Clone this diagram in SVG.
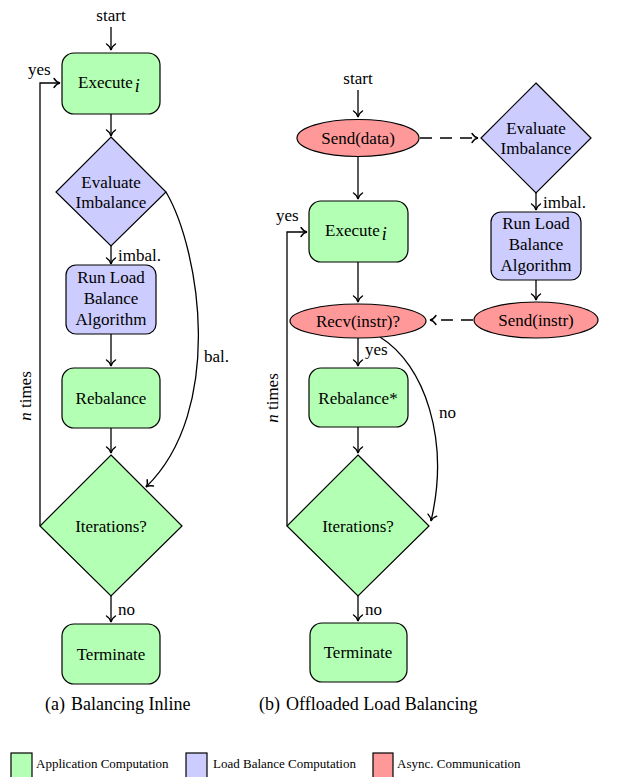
<svg xmlns="http://www.w3.org/2000/svg" width="632" height="777" viewBox="0 0 632 777" font-family="Liberation Serif, Times New Roman, serif" font-size="17">
<style>
text{fill:#000}
.c{text-anchor:middle}
.g{fill:#b3ffb3;stroke:#000;stroke-width:1.2}
.p{fill:#ccccff;stroke:#000;stroke-width:1.2}
.r{fill:#ff9999;stroke:#000;stroke-width:1.2}
.e{fill:none;stroke:#000;stroke-width:1.3;marker-end:url(#ah)}
.d{stroke-dasharray:12 8}
.leg{font-size:13px}
.it{font-style:italic}
</style>
<defs>
<marker id="ah" markerUnits="userSpaceOnUse" viewBox="-7 -6 8 12" refX="0" refY="0" markerWidth="8" markerHeight="12" orient="auto" overflow="visible">
<path d="M-6,-4.5 C-4,-1.5 -1.5,-0.3 0,0 C-1.5,0.3 -4,1.5 -6,4.5" fill="none" stroke="#000" stroke-width="1.4" stroke-linecap="round"/>
</marker>
</defs>

<g id="connectors">
<line class="e" x1="111" y1="27" x2="111" y2="50"/>
<line class="e" x1="111" y1="114" x2="111" y2="136"/>
<line class="e" x1="111" y1="246" x2="111" y2="264"/>
<line class="e" x1="111" y1="334" x2="111" y2="366"/>
<line class="e" x1="111" y1="428" x2="111" y2="453"/>
<line class="e" x1="111" y1="596" x2="111" y2="622"/>
<path class="e" d="M40,526 V83 H60"/>
<path class="e" d="M166,192 C200,250 225,410 146,487"/>

<line class="e" x1="358" y1="90" x2="358" y2="117"/>
<line class="e d" x1="420" y1="138" x2="478" y2="138"/>
<line class="e" x1="536" y1="193" x2="536" y2="210"/>
<line class="e" x1="536" y1="280" x2="536" y2="300"/>
<line class="e d" x1="473" y1="320" x2="430" y2="320"/>
<line class="e" x1="358" y1="157" x2="358" y2="199"/>
<line class="e" x1="358" y1="262" x2="358" y2="302"/>
<line class="e" x1="358" y1="338" x2="358" y2="366"/>
<line class="e" x1="358" y1="427" x2="358" y2="453"/>
<line class="e" x1="358" y1="596" x2="358" y2="621"/>
<path class="e" d="M287,526 V232 H307"/>
<path class="e" d="M380,337 C425,365 450,440 431,521"/>
</g>

<g id="labels">
<text class="c" x="111" y="21">start</text>
<text x="118" y="261">imbal.</text>
<text x="118" y="615">no</text>
<text x="204" y="362">bal.</text>
<text x="28" y="75">yes</text>
<text class="c" transform="translate(31,396) rotate(-90)"><tspan class="it">n</tspan> times</text>

<text class="c" x="358" y="84">start</text>
<text x="543" y="208">imbal.</text>
<text x="365" y="355">yes</text>
<text x="365" y="615">no</text>
<text x="439" y="418">no</text>
<text x="276" y="221">yes</text>
<text class="c" transform="translate(278,398) rotate(-90)"><tspan class="it">n</tspan> times</text>
</g>

<g id="exec_a"><rect class="g" x="62" y="53" width="98" height="61" rx="12"/><text x="78" y="88">Execute<tspan class="it" dx="2" dy="4" font-size="18">i</tspan></text></g>
<g id="eval_a"><polygon class="p" points="111,137 166,192 111,246 56,192"/><text class="c" x="111" y="188">Evaluate</text><text class="c" x="111" y="208">Imbalance</text></g>
<g id="rlb_a"><rect class="p" x="66" y="265" width="90" height="69" rx="10"/><text class="c" x="111" y="283">Run Load</text><text class="c" x="111" y="304">Balance</text><text class="c" x="111" y="325">Algorithm</text></g>
<g id="reb_a"><rect class="g" x="62" y="368" width="98" height="60" rx="12"/><text class="c" x="111" y="404">Rebalance</text></g>
<g id="iter_a"><polygon class="g" points="111,455 182,526 111,596 40,526"/><text class="c" x="111" y="532">Iterations?</text></g>
<g id="term_a"><rect class="g" x="62" y="624" width="98" height="60" rx="12"/><text class="c" x="111" y="660">Terminate</text></g>

<g id="send_data"><ellipse class="r" cx="358" cy="138" rx="61" ry="18.5"/><text class="c" x="358" y="144">Send(data)</text></g>
<g id="eval_b"><polygon class="p" points="536,83 591,138 536,193 481,138"/><text class="c" x="536" y="134">Evaluate</text><text class="c" x="536" y="154">Imbalance</text></g>
<g id="rlb_b"><rect class="p" x="491" y="212" width="90" height="68" rx="10"/><text class="c" x="536" y="229">Run Load</text><text class="c" x="536" y="250">Balance</text><text class="c" x="536" y="271">Algorithm</text></g>
<g id="send_instr"><ellipse class="r" cx="536" cy="320" rx="62" ry="18"/><text class="c" x="536" y="326">Send(instr)</text></g>
<g id="exec_b"><rect class="g" x="309" y="201" width="99" height="61" rx="12"/><text x="325" y="236">Execute<tspan class="it" dx="2" dy="4" font-size="18">i</tspan></text></g>
<g id="recv"><ellipse class="r" cx="358" cy="321" rx="68" ry="17"/><text class="c" x="358" y="327">Recv(instr)?</text></g>
<g id="reb_b"><rect class="g" x="309" y="368" width="99" height="59" rx="12"/><text class="c" x="358" y="404">Rebalance*</text></g>
<g id="iter_b"><polygon class="g" points="358,455 429,526 358,596 287,526"/><text class="c" x="358" y="532">Iterations?</text></g>
<g id="term_b"><rect class="g" x="310" y="623" width="97" height="59" rx="12"/><text class="c" x="358" y="658">Terminate</text></g>

<g id="captions" font-size="18">
<text x="45" y="710">(a)</text><text x="71" y="710">Balancing Inline</text>
<text x="259" y="710">(b)</text><text x="286" y="710">Offloaded Load Balancing</text>
</g>

<g id="legend">
<rect class="g" x="11" y="753" width="21" height="30"/><text class="leg" x="36" y="768">Application Computation</text>
<rect class="p" x="186" y="753" width="21" height="30"/><text class="leg" x="213" y="768">Load Balance Computation</text>
<rect class="r" x="373" y="753" width="20" height="30"/><text class="leg" x="397" y="768">Async. Communication</text>
</g>
</svg>
